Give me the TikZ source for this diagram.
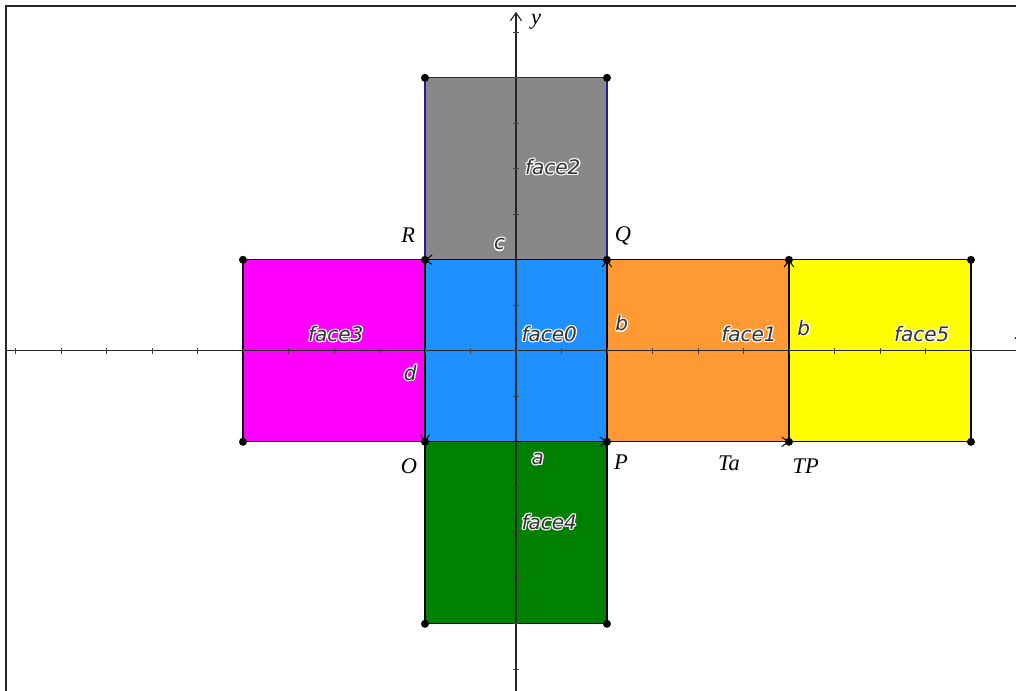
\documentclass[tikz,border=0pt]{standalone}
\usepackage{fontspec}
\setmainfont{Liberation Serif}
\newfontfamily\facefont{DejaVu Sans}
\usepackage{xcolor}
\usepackage{tikz}
\usetikzlibrary{arrows.meta, positioning}

\definecolor{faceblue}{RGB}{30,144,255}
\definecolor{faceorange}{RGB}{255,153,51}
\definecolor{facegray}{RGB}{136,136,136}
\definecolor{facemagenta}{RGB}{255,0,255}
\definecolor{facegreen}{RGB}{0,128,0}
\definecolor{faceyellow}{RGB}{255,255,0}
\definecolor{edgenavy}{RGB}{30,30,150}

% white outline round a label
\newcommand{\halo}[1]{\leavevmode\begingroup
  \def\halocopy##1##2{\rlap{\kern##1\raisebox{##2}{\textcolor{white}{#1}}}}%
  \halocopy{0.8pt}{0pt}\halocopy{-0.8pt}{0pt}\halocopy{0pt}{0.8pt}\halocopy{0pt}{-0.8pt}%
  \halocopy{0.55pt}{0.55pt}\halocopy{-0.55pt}{0.55pt}\halocopy{0.55pt}{-0.55pt}\halocopy{-0.55pt}{-0.55pt}%
  #1\endgroup}

\begin{document}
\begin{tikzpicture}[
    x=1cm, y=1cm,
    face/.style={draw=black, line width=0.8pt},
    vec/.style={-{Straight Barb[length=4pt, width=6pt]}, line width=0.6pt},
    axis/.style={line width=0.7pt, draw=black!85},
    tickmark/.style={line width=0.5pt, draw=black!75},
    dot/.style={circle, fill=black, inner sep=0pt, minimum size=5pt},
    ptlbl/.style={font=\fontsize{14}{16}\selectfont\itshape, inner sep=0pt},
    facelbl/.style={font=\facefont\fontsize{12.5}{14}\selectfont\itshape, text=black!80, inner sep=0pt},
]

    \clip (-11.34,-7.47) rectangle (10.99,7.71);
    \fill[white] (-11.34,-7.47) rectangle (10.99,7.71);

    % ── Corners ──
    \coordinate (O) at (-2,-2);
    \coordinate (P) at (2,-2);
    \coordinate (Q) at (2,2);
    \coordinate (R) at (-2,2);
    \coordinate (TP) at (6,-2);
    \coordinate (TQ) at (6,2);
    \coordinate (F5a) at (10,-2);
    \coordinate (F5b) at (10,2);
    \coordinate (F2a) at (-2,6);
    \coordinate (F2b) at (2,6);
    \coordinate (F3a) at (-6,-2);
    \coordinate (F3b) at (-6,2);
    \coordinate (F4a) at (-2,-6);
    \coordinate (F4b) at (2,-6);

    % ── Faces ──
    \filldraw[face, fill=faceblue] (O) -- (P) -- (Q) -- (R) -- cycle;
    \filldraw[face, fill=faceorange] (P) -- (TP) -- (TQ) -- (Q) -- cycle;
    \filldraw[face, fill=faceyellow] (TP) -- (F5a) -- (F5b) -- (TQ) -- cycle;
    \filldraw[face, fill=facegray, draw=edgenavy] (R) -- (Q) -- (F2b) -- (F2a) -- cycle;
    \filldraw[face, fill=facemagenta] (F3a) -- (O) -- (R) -- (F3b) -- cycle;
    \filldraw[face, fill=facegreen] (F4a) -- (F4b) -- (P) -- (O) -- cycle;

    % ── Frame and axes ──
    \draw[line width=1.3pt, black!85] (-11.21,-7.6) -- (-11.21,7.58) -- (11.1,7.58);
    \coordinate (xstart) at (-11.21,0);
    \coordinate (xend) at (11.1,0);
    \coordinate (ystart) at (0,-7.6);
    \coordinate (yend) at (0,7.45);
    \draw[axis] (xstart) -- (xend);
    \draw[axis, -{Straight Barb[length=5pt, width=7pt]}] (ystart) -- (yend);
    \foreach \i in {-11,...,10}
        \draw[tickmark] (\i,-0.07) -- (\i,0.07);
    \foreach \j in {-7,...,7}
        \draw[tickmark] (-0.07,\j) -- (0.07,\j);
    \node[ptlbl] (xlbl) at (11.08,0.37) {x};
    \node[ptlbl] (ylbl) at (0.44,7.23) {y};

    % ── Vectors ──
    \draw[vec] (O) -- (P) node[facelbl, pos=0.62, below=6pt] {\halo{a}};
    \draw[vec] (P) -- (Q) node[facelbl, pos=0.65, right=5pt] {\halo{b}};
    \draw[vec] (Q) -- (R) node[facelbl, pos=0.59, above=5pt] {\halo{c}};
    \draw[vec] (R) -- (O) node[facelbl, pos=0.62, left=5pt] {\halo{d}};
    \draw[vec] (P) -- (TP);
    \draw[vec] (TP) -- (TQ) node[facelbl, pos=0.625, right=5pt] {\halo{b}};

    % ── Points ──
    \foreach \p in {O, P, Q, R, TP, TQ, F5a, F5b, F2a, F2b, F3a, F3b, F4a, F4b}
        \node[dot] at (\p) {};

    % ── Point labels ──
    \node[ptlbl] (lR) at (-2.37,2.55) {R};
    \node[ptlbl] (lQ) at (2.35,2.53) {Q};
    \node[ptlbl] (lO) at (-2.35,-2.53) {O};
    \node[ptlbl] (lP) at (2.31,-2.45) {P};
    \node[ptlbl] (lTa) at (4.68,-2.48) {Ta};
    \node[ptlbl] (lTP) at (6.37,-2.53) {TP};

    % ── Face labels ──
    \node[facelbl] (l0) at (0.73,0.37) {\halo{face0}};
    \node[facelbl] (l1) at (5.12,0.37) {\halo{face1}};
    \node[facelbl] (l2) at (0.81,4.04) {\halo{face2}};
    \node[facelbl] (l3) at (-3.96,0.37) {\halo{face3}};
    \node[facelbl] (l4) at (0.73,-3.76) {\halo{face4}};
    \node[facelbl] (l5) at (8.92,0.37) {\halo{face5}};

\end{tikzpicture}
\end{document}
